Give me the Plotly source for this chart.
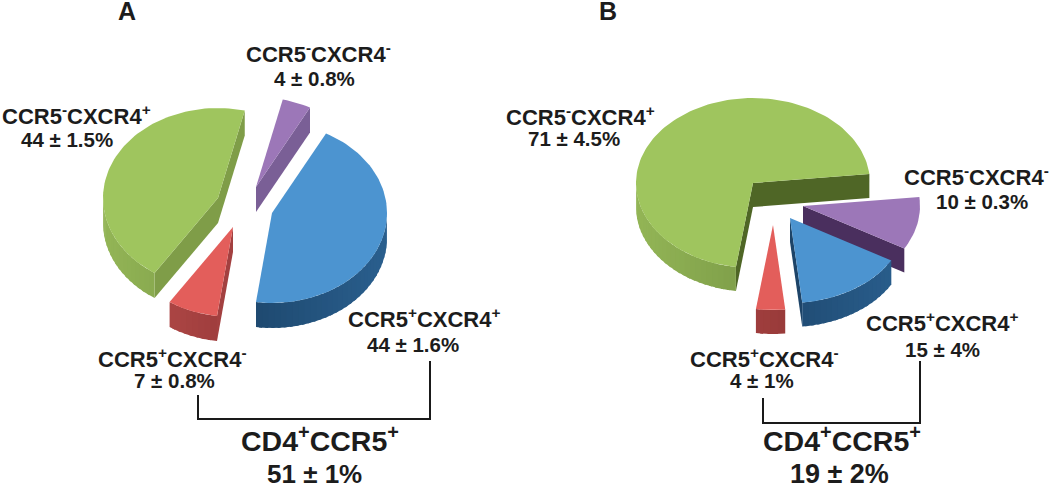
import math
import plotly.graph_objects as go

# ---- data ----
slices = ["CCR5+CXCR4+", "CCR5+CXCR4-", "CCR5-CXCR4+", "CCR5-CXCR4-"]
values_a = [44, 7, 44, 4]
values_b = [15, 4, 71, 10]
errors_a = ["44 ± 1.6%", "7 ± 0.8%", "44 ± 1.5%", "4 ± 0.8%"]
errors_b = ["15 ± 4%", "4 ± 1%", "71 ± 4.5%", "10 ± 0.3%"]
group_a = "51 ± 1%"
group_b = "19 ± 2%"
group_label = "CD4<sup>+</sup>CCR5<sup>+</sup>"

# ---- styling / layout ----
FONT = "Liberation Sans"
TXT = "#1c1c1c"
TOP = ["#4C94D0", "#E35E5B", "#9FC55E", "#9C77B8"]
WALL = [("#16395A", "#2A5F8E"), ("#B84C4B", "#7E2B2B"), ("#93B556", "#66843A"), ("#6F5589", "#6F5589")]

PIE_A = dict(values=values_a, start=28, rx=115, ry=90, h=25,
             centers=[(272, 213), (233, 227), (218, 198), (256, 187)],
             face=["#1D4468", "#A34040", "#7F9D48", "#7A5F96"],
             order=[3, 2, 0, 1])
PIE_B = dict(values=values_b, start=120, rx=117, ry=85, h=24,
             centers=[(790, 218), (773, 225), (753, 183), (803, 206)],
             face=["#1D4468", "#7E2B2B", "#4F6626", "#4A2F5E"],
             order=[2, 3, 0, 1])

fig = go.Figure()


def hex_mix(c1, c2, f):
    a = [int(c1[i:i + 2], 16) for i in (1, 3, 5)]
    b = [int(c2[i:i + 2], 16) for i in (1, 3, 5)]
    return "rgb(%d,%d,%d)" % tuple(round(p + (q - p) * f) for p, q in zip(a, b))


def poly(xs, ys, color):
    fig.add_trace(go.Scatter(x=xs + xs[:1], y=ys + ys[:1], mode="lines", fill="toself",
                             fillcolor=color, line=dict(color=color, width=0),
                             hoverinfo="skip", showlegend=False))


def pt(c, t, rx, ry):
    r = math.radians(t)
    return c[0] + rx * math.sin(r), c[1] - ry * math.cos(r)


def draw_pie(p):
    total = sum(p["values"])
    bounds = {}
    a = p["start"]
    for i, v in enumerate(p["values"]):
        bounds[i] = (a, a + 360 * v / total)
        a = bounds[i][1]
    rx, ry, h = p["rx"], p["ry"], p["h"]
    for i in p["order"]:
        t0, t1 = bounds[i]
        c = p["centers"][i]
        # cut faces that look towards the viewer
        for t, visible in ((t0, math.sin(math.radians(t0)) < 0), (t1, math.sin(math.radians(t1)) > 0)):
            if visible:
                x, y = pt(c, t, rx, ry)
                poly([c[0], x, x, c[0]], [c[1], y, y + h, c[1] + h], p["face"][i])
        # outer wall, as shaded strips that overlap the next one so no seam shows
        lo, hi = max(t0, 90), min(t1, 270)
        if lo < hi:
            n = max(2, int((hi - lo) / 3))
            for k in range(n):
                a0 = lo + (hi - lo) * k / n
                a1 = min(hi, lo + (hi - lo) * (k + 1) / n + 1.5)
                x0, y0 = pt(c, a0, rx, ry)
                x1, y1 = pt(c, a1, rx, ry)
                xm, ym = pt(c, (a0 + a1) / 2, rx, ry)
                f = (math.sin(math.radians((a0 + a1) / 2)) + 1) / 2
                col = hex_mix(WALL[i][0], WALL[i][1], f)
                poly([x0, xm, x1, x1, xm, x0], [y0, ym, y1, y1 + h, ym + h, y0 + h], col)
        # top surface
        n = max(2, int((t1 - t0) / 2))
        xs, ys = [c[0]], [c[1]]
        for k in range(n + 1):
            x, y = pt(c, t0 + (t1 - t0) * k / n, rx, ry)
            xs.append(x)
            ys.append(y)
        poly(xs, ys, TOP[i])


draw_pie(PIE_A)
draw_pie(PIE_B)

# brackets
for bx, by in (([198, 198, 430, 430], [395, 419, 419, 361]),
               ([763, 763, 920, 920], [398, 423, 423, 361])):
    fig.add_trace(go.Scatter(x=bx, y=by, mode="lines", line=dict(color="#1a1a1a", width=2),
                             hoverinfo="skip", showlegend=False))


def sup(name):
    a, b = name.split("CXCR4")
    return "CCR5<sup>%s</sup>CXCR4<sup>%s</sup>" % (a[-1], b)


def text(x, y, s, size):
    fig.add_annotation(x=x, y=y, text="<b>%s</b>" % s, showarrow=False,
                       xanchor="center", yanchor="middle",
                       font=dict(family=FONT, size=size, color=TXT))


LABEL = 22
VAL = 20.5
POS_A = [((424, 318), (413, 344)), ((172, 358), (174, 380)), ((76, 115), (67, 139)), ((318, 53), (314, 78))]
POS_B = [((942, 322), (942, 349)), ((764, 358), (762, 380)), ((580, 116), (574, 138)), ((976, 176), (982, 201))]
for i, name in enumerate(slices):
    text(*POS_A[i][0], sup(name), LABEL)
    text(*POS_A[i][1], errors_a[i], VAL)
    text(*POS_B[i][0], sup(name), LABEL)
    text(*POS_B[i][1], errors_b[i], VAL)

text(320, 439, group_label, 28.5)
text(314, 474, group_a, 26)
text(842, 439, group_label, 28.5)
text(839, 474, group_b, 27)
text(127, 11, "A", 25)
text(608, 11, "B", 25)

fig.update_layout(width=1050, height=486, margin=dict(l=0, r=0, t=0, b=0),
                  paper_bgcolor="white", plot_bgcolor="white", showlegend=False,
                  xaxis=dict(range=[0, 1050], visible=False, fixedrange=True),
                  yaxis=dict(range=[486, 0], visible=False, fixedrange=True))
fig.write_html("out.html", config=dict(displayModeBar=False),
               post_script="document.body.style.margin='0';document.documentElement.style.overflow='hidden';")
